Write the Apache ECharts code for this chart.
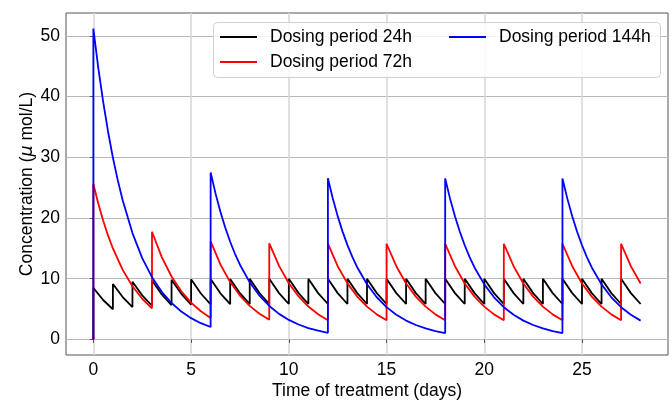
<!DOCTYPE html>
<html>
<head>
<meta charset="utf-8">
<script src="https://cdn.jsdelivr.net/npm/echarts@6/dist/echarts.min.js"></script>
<style>html,body{margin:0;padding:0;background:#fff}#c{width:672px;height:401px}</style>
</head>
<body>
<div id="c"></div>
<script>
const seriesNames = ['Dosing period 24h', 'Dosing period 72h', 'Dosing period 144h'];
const xTicks = [0, 5, 10, 15, 20, 25];
const yTicks = [0, 10, 20, 30, 40, 50];

const period24h = [
  [0,0],[0,8.5],[0.5,6.5],[1,4.97],
  [1,9.12],[1.5,6.98],[2,5.34],
  [2,9.49],[2.5,7.26],[3,5.55],
  [3,9.70],[3.5,7.42],[4,5.67],
  [4,9.82],[4.5,7.51],[5,5.75],
  [5,9.90],[5.5,7.57],[6,5.79],
  [6,9.94],[6.5,7.60],[7,5.81],
  [7,9.96],[7.5,7.62],[8,5.83],
  [8,9.98],[8.5,7.63],[9,5.84],
  [9,9.98],[9.5,7.63],[10,5.84],
  [10,9.98],[10.5,7.63],[11,5.84],
  [11,9.98],[11.5,7.63],[12,5.84],
  [12,9.98],[12.5,7.63],[13,5.84],
  [13,9.98],[13.5,7.63],[14,5.84],
  [14,9.98],[14.5,7.63],[15,5.84],
  [15,9.98],[15.5,7.63],[16,5.84],
  [16,9.98],[16.5,7.63],[17,5.84],
  [17,9.98],[17.5,7.63],[18,5.84],
  [18,9.98],[18.5,7.63],[19,5.84],
  [19,9.98],[19.5,7.63],[20,5.84],
  [20,9.98],[20.5,7.63],[21,5.84],
  [21,9.98],[21.5,7.63],[22,5.84],
  [22,9.98],[22.5,7.63],[23,5.84],
  [23,9.98],[23.5,7.63],[24,5.84],
  [24,9.98],[24.5,7.63],[25,5.84],
  [25,9.98],[25.5,7.63],[26,5.84],
  [26,9.98],[26.5,7.63],[27,5.84],
  [27,9.98],[27.5,7.63],[28,5.84]
];

const period72h = [
  [0,0],[0,25.6],[0.25,22.39],[0.5,19.58],[0.75,17.13],[1,14.98],[1.5,11.46],[2,8.76],[2.5,6.70],[3,5.13],
  [3,17.73],[3.5,13.56],[4,10.37],[4.5,7.93],[5,6.07],[5.5,4.64],[6,3.55],
  [6,16.15],[6.5,12.35],[7,9.45],[7.5,7.23],[8,5.53],[8.5,4.23],[9,3.23],
  [9,15.83],[9.5,12.11],[10,9.26],[10.5,7.08],[11,5.42],[11.5,4.14],[12,3.17],
  [12,15.77],[12.5,12.06],[13,9.23],[13.5,7.06],[14,5.40],[14.5,4.13],[15,3.16],
  [15,15.76],[15.5,12.06],[16,9.22],[16.5,7.05],[17,5.40],[17.5,4.13],[18,3.16],
  [18,15.76],[18.5,12.06],[19,9.22],[19.5,7.05],[20,5.40],[20.5,4.13],[21,3.16],
  [21,15.76],[21.5,12.06],[22,9.22],[22.5,7.05],[23,5.40],[23.5,4.13],[24,3.16],
  [24,15.76],[24.5,12.06],[25,9.22],[25.5,7.05],[26,5.40],[26.5,4.13],[27,3.16],
  [27,15.76],[27.5,12.06],[28,9.22]
];

const period144h = [
  [0,0],[0,51.2],[0.25,44.78],[0.5,39.16],[0.75,34.25],[1,29.95],[1.25,26.20],[1.5,22.91],[2,17.52],[2.5,13.40],[3,10.25],[3.5,7.84],[4,6.00],[4.5,4.59],[5,3.51],[5.5,2.68],[6,2.05],
  [6,27.50],[6.25,24.05],[6.5,21.03],[6.75,18.40],[7,16.09],[7.25,14.07],[7.5,12.31],[8,9.41],[8.5,7.20],[9,5.51],[9.5,4.21],[10,3.22],[10.5,2.46],[11,1.88],[11.5,1.44],[12,1.10],
  [12,26.55],[12.25,23.22],[12.5,20.31],[12.75,17.76],[13,15.53],[13.25,13.59],[13.5,11.88],[14,9.09],[14.5,6.95],[15,5.32],[15.5,4.06],[16,3.11],[16.5,2.38],[17,1.82],[17.5,1.39],[18,1.06],
  [18,26.51],[18.25,23.19],[18.5,20.28],[18.75,17.73],[19,15.51],[19.25,13.57],[19.5,11.86],[20,9.07],[20.5,6.94],[21,5.31],[21.5,4.06],[22,3.10],[22.5,2.38],[23,1.82],[23.5,1.39],[24,1.06],
  [24,26.51],[24.25,23.19],[24.5,20.28],[24.75,17.73],[25,15.51],[25.25,13.57],[25.5,11.86],[26,9.07],[26.5,6.94],[27,5.31],[27.5,4.06],[28,3.10]
];

const FONT = 'Liberation Sans, Arial, sans-serif';
const FS = 17.5;
const LINE_ICON = 'path://M0,0H100V5H0Z';
const chart = echarts.init(document.getElementById('c'), null, {renderer: 'canvas'});

function lineSeries(name, data, color) {
  return {
    name: name, type: 'line', data: data, symbol: 'none', showSymbol: false,
    lineStyle: {color: color, width: 1.8}, itemStyle: {color: color},
    animation: false, z: 3
  };
}

function legendBlock(names, left) {
  return {
    data: names.map(n => ({name: n, icon: LINE_ICON})),
    orient: 'vertical', left: left, top: 28, padding: 0,
    itemWidth: 37, itemHeight: 14, itemGap: 7, z: 110, symbolKeepAspect: true,
    textStyle: {fontFamily: FONT, fontSize: FS, color: '#000', padding: [0,0,0,8]}
  };
}

chart.setOption({
  animation: false,
  backgroundColor: '#fff',
  textStyle: {fontFamily: FONT},
  grid: {left: 66, right: 4, top: 13, bottom: 46, containLabel: false, outerBoundsMode: 'none',
         show: true, borderColor: '#555', borderWidth: 1, backgroundColor: 'transparent'},
  graphic: [{
    type: 'rect', z: 100, silent: true,
    shape: {x: 213.5, y: 22.5, width: 447, height: 55, r: 4},
    style: {fill: 'rgba(255,255,255,0.8)', stroke: '#d0d0d0', lineWidth: 1}
  }],
  legend: [legendBlock([seriesNames[0], seriesNames[1]], 220), legendBlock([seriesNames[2]], 449)],
  xAxis: {
    type: 'value', min: -1.4, max: 29.4,
    name: 'Time of treatment (days)', nameLocation: 'middle', nameGap: 27, nameMoveOverlap: false,
    nameTextStyle: {fontFamily: FONT, fontSize: FS, color: '#000'},
    axisLine: {show: false},
    axisTick: {show: true, length: 3.5, inside: false, customValues: xTicks, lineStyle: {color: '#555', width: 1}},
    axisLabel: {customValues: xTicks, fontFamily: FONT, fontSize: FS, color: '#000', margin: 6},
    splitLine: {show: true, lineStyle: {color: '#d6d6d6', width: 1.5}}
  },
  yAxis: {
    type: 'value', min: -2.56, max: 53.76,
    name: 'Concentration ({mu|μ} mol/L)', nameLocation: 'middle', nameGap: 30, nameMoveOverlap: false,
    nameTextStyle: {fontFamily: FONT, fontSize: FS, color: '#000',
      rich: {mu: {fontFamily: 'DejaVu Sans', fontStyle: 'italic', fontSize: FS, color: '#000'}}},
    axisLine: {show: false},
    axisTick: {show: true, length: 3.5, inside: false, customValues: yTicks, lineStyle: {color: '#555', width: 1}},
    axisLabel: {customValues: yTicks, fontFamily: FONT, fontSize: FS, color: '#000', margin: 6},
    splitLine: {show: true, lineStyle: {color: '#b8b8b8', width: 1}}
  },
  series: [
    lineSeries(seriesNames[0], period24h, '#000000'),
    lineSeries(seriesNames[1], period72h, '#ff0000'),
    lineSeries(seriesNames[2], period144h, '#0000ff')
  ]
});
</script>
</body>
</html>
